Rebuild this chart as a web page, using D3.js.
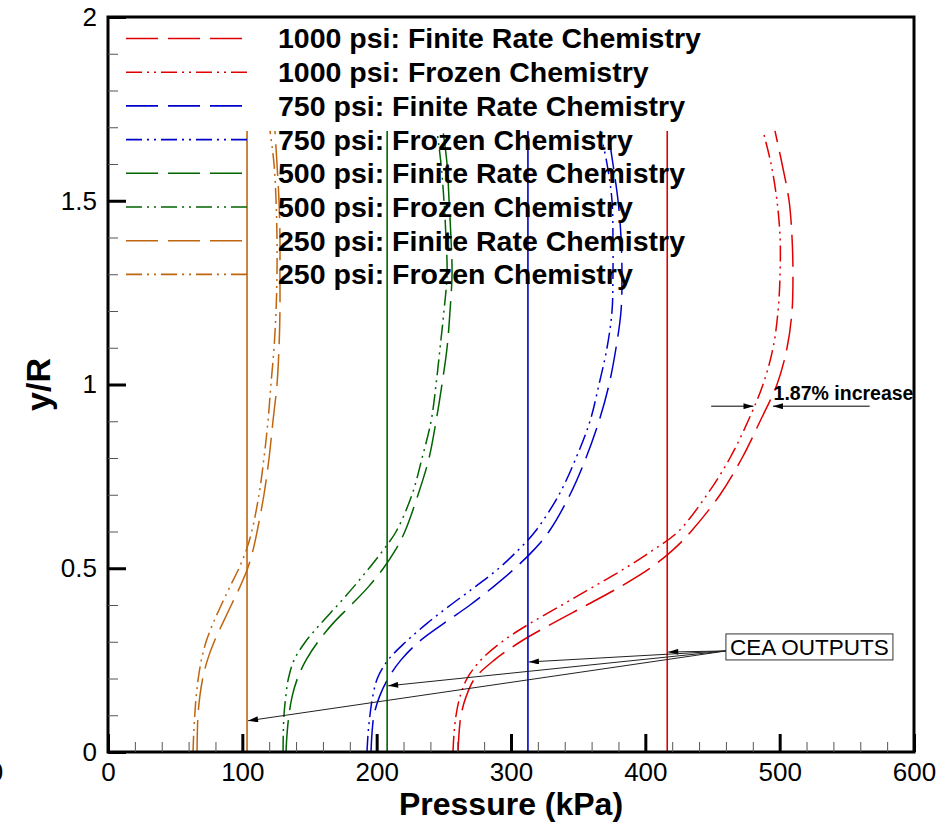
<!DOCTYPE html>
<html><head><meta charset="utf-8">
<script src="https://cdn.jsdelivr.net/npm/d3@7"></script>
<style>body{margin:0;background:#fff} svg{display:block} text{font-family:"Liberation Sans",Arial,Helvetica,sans-serif}</style>
</head><body><svg id="c" width="944" height="822"></svg>
<script>
// ---------- data ----------
const yR = [0,0.05,0.1,0.15,0.2,0.25,0.3,0.35,0.4,0.45,0.5,0.55,0.6,0.7,0.8,0.9,1.0,1.1,1.2,1.3,1.4,1.5,1.6,1.69];
const p1000Finite = [260.6,261.3,262.8,266.5,273.0,287.5,307.0,331.0,356.5,381.5,403.5,420.6,434.0,455.6,472.0,485.4,498.0,505.5,509.2,509.9,509.2,507.0,501.8,496.5];
const p1000Frozen = [256.8,257.6,259.1,262.0,267.3,277.5,293.3,314.2,338.0,361.5,384.9,406.0,424.5,445.9,463.0,476.4,487.6,495.1,498.8,500.3,500.3,498.0,493.6,487.6];
const p750Finite  = [195.8,196.5,198.0,202.0,208.5,218.0,231.5,250.0,269.5,287.0,303.0,317.0,328.3,343.9,355.8,365.5,373.0,378.2,381.9,382.6,381.9,379.7,375.9,372.2];
const p750Frozen  = [192.8,193.6,195.0,197.0,200.5,208.4,221.8,237.5,255.0,273.5,291.0,305.5,318.0,335.7,348.4,358.8,365.5,371.5,375.2,375.9,375.9,375.2,371.5,366.3];
const p500Finite  = [132.5,133.3,134.7,137.0,141.0,147.4,156.3,167.5,181.0,194.0,205.0,214.0,221.0,230.8,239.0,244.2,248.6,252.4,254.6,256.1,255.3,253.9,252.4,249.4];
const p500Frozen  = [130.3,130.5,131.0,132.3,134.3,138.5,147.0,158.5,171.0,183.0,194.3,205.0,214.5,226.3,233.8,240.5,244.2,247.2,250.1,252.4,251.6,250.1,247.9,244.9];
const p250Finite  = [66.3,66.5,67.0,68.3,70.5,74.0,79.0,85.3,91.8,98.3,104.0,108.0,111.0,116.1,119.9,122.8,125.8,127.3,128.0,128.0,128.0,127.3,125.8,124.3];
const p250Frozen  = [63.3,63.8,64.6,65.6,67.2,69.5,73.0,78.2,84.3,90.8,97.5,103.0,107.0,112.4,116.1,119.1,121.3,123.6,125.1,125.8,125.8,125.1,123.6,120.6];

const ceaCases    = ["1000 psi","750 psi","500 psi","250 psi"];
const ceaPressure = [416.3, 312.6, 207.8, 103.5];
const ceaTop      = 1.69;
const ceaArrowY   = [0.272, 0.245, 0.180, 0.085];

const legendLabels = ["1000 psi: Finite Rate Chemistry","1000 psi: Frozen Chemistry",
  "750 psi: Finite Rate Chemistry","750 psi: Frozen Chemistry",
  "500 psi: Finite Rate Chemistry","500 psi: Frozen Chemistry",
  "250 psi: Finite Rate Chemistry","250 psi: Frozen Chemistry"];

const xTicks = [0,100,200,300,400,500,600];
const yTicks = [0,0.5,1,1.5,2];
const xTitle = "Pressure (kPa)";
const yTitle = "y/R";

// ---------- styles ----------
const colors = {"1000 psi":"#e00000","750 psi":"#0000cc","500 psi":"#006400","250 psi":"#c0650f"};
const dashFinite = "32,10";
const dashFrozen = "16,5,2,5,2,5";

const series = [
  {case:"1000 psi", kind:"finite", p:p1000Finite},
  {case:"1000 psi", kind:"frozen", p:p1000Frozen},
  {case:"750 psi", kind:"finite", p:p750Finite},
  {case:"750 psi", kind:"frozen", p:p750Frozen},
  {case:"500 psi", kind:"finite", p:p500Finite},
  {case:"500 psi", kind:"frozen", p:p500Frozen},
  {case:"250 psi", kind:"finite", p:p250Finite},
  {case:"250 psi", kind:"frozen", p:p250Frozen}
];

const svg = d3.select("#c");
const x = d3.scaleLinear().domain([0,600]).range([108,914]);
const y = d3.scaleLinear().domain([0,2]).range([752,17]);

const defs = svg.append("defs");
defs.append("marker").attr("id","arr").attr("viewBox","0 0 10 6").attr("refX",10).attr("refY",3)
  .attr("markerWidth",11).attr("markerHeight",6).attr("markerUnits","userSpaceOnUse").attr("orient","auto")
  .append("path").attr("d","M0,0L10,3L0,6Z").attr("fill","#000");

// curves
const line = d3.line().x(d=>x(d[0])).y(d=>y(d[1])).curve(d3.curveCatmullRom.alpha(0.5));
svg.append("g").selectAll("path").data(series).join("path")
  .attr("d", s => line(s.p.map((v,i)=>[v,yR[i]])))
  .attr("fill","none").attr("stroke", s=>colors[s.case]).attr("stroke-width",1.5)
  .attr("stroke-dasharray", s => s.kind==="finite"?dashFinite:dashFrozen);

// CEA vertical lines
svg.append("g").selectAll("line").data(ceaCases).join("line")
  .attr("x1",(c,i)=>x(ceaPressure[i])).attr("x2",(c,i)=>x(ceaPressure[i]))
  .attr("y1",y(0)).attr("y2",y(ceaTop))
  .attr("stroke",c=>colors[c]).attr("stroke-width",1.6);

// CEA OUTPUTS annotation
const boxP = 460, boxY = 0.275;
svg.append("g").selectAll("line").data(ceaPressure).join("line")
  .attr("x1",x(boxP)).attr("y1",y(boxY))
  .attr("x2",(p)=>x(p)+1).attr("y2",(p,i)=>y(ceaArrowY[i]))
  .attr("stroke","#222").attr("stroke-width",1).attr("marker-end","url(#arr)");
const boxG = svg.append("g");
boxG.append("rect").attr("x",x(boxP)).attr("y",y(boxY)-17).attr("width",167).attr("height",26)
  .attr("fill","#fff").attr("stroke","#333").attr("stroke-width",1);
boxG.append("text").attr("x",x(boxP)+83.5).attr("y",y(boxY)+4).attr("text-anchor","middle")
  .attr("font-size",22.5).text("CEA OUTPUTS");

// 1.87% increase annotation
const incY = 0.941;
svg.append("line").attr("x1",x(449)).attr("x2",x(480.5)).attr("y1",y(incY)).attr("y2",y(incY))
  .attr("stroke","#000").attr("stroke-width",1).attr("marker-end","url(#arr)");
svg.append("line").attr("x1",x(567)).attr("x2",x(495)).attr("y1",y(incY)).attr("y2",y(incY))
  .attr("stroke","#000").attr("stroke-width",1).attr("marker-end","url(#arr)");
svg.append("text").attr("x",x(495.5)).attr("y",y(incY)-6).attr("font-size",19.5).attr("font-weight","bold")
  .text("1.87% increase");

// legend
const lg = svg.append("g");
const rowY = i => 38.5 + 33.7*i;
lg.selectAll("line").data(series).join("line")
  .attr("x1",126).attr("x2",(s)=>s.kind==="finite"?243:250).attr("y1",(s,i)=>rowY(i)).attr("y2",(s,i)=>rowY(i))
  .attr("stroke",s=>colors[s.case]).attr("stroke-width",1.6)
  .attr("stroke-dasharray", s => s.kind==="finite"?dashFinite:dashFrozen);
lg.selectAll("text").data(legendLabels).join("text")
  .attr("x",278).attr("y",(d,i)=>rowY(i)).attr("dy","0.35em")
  .attr("font-size",28.5).attr("font-weight","bold").text(d=>d);

// frame
svg.append("rect").attr("x",x(0)).attr("y",y(2)).attr("width",x(600)-x(0)).attr("height",y(0)-y(2))
  .attr("fill","none").attr("stroke","#000").attr("stroke-width",3);

// axes
const xMinor = d3.range(0,601,20).filter(v=>v%100!==0);
const yMinor = d3.range(0,21,1).map(v=>v/10).filter(v=>Math.round(v*10)%5!==0);
const gxm = svg.append("g").attr("transform",`translate(0,${y(0)})`)
  .call(d3.axisBottom(x).tickValues(xMinor).tickSize(-10).tickFormat(""));
const gx = svg.append("g").attr("transform",`translate(0,${y(0)})`)
  .call(d3.axisBottom(x).tickValues(xTicks).tickSize(-18).tickPadding(11).tickFormat(d3.format("d")));
const gym = svg.append("g").attr("transform",`translate(${x(0)},0)`)
  .call(d3.axisLeft(y).tickValues(yMinor).tickSize(-10).tickFormat(""));
const gy = svg.append("g").attr("transform",`translate(${x(0)},0)`)
  .call(d3.axisLeft(y).tickValues(yTicks).tickSize(-18).tickPadding(11).tickFormat(d=>d3.format("")(d)));
[gxm,gx,gym,gy].forEach(g=>g.select(".domain").remove());
[gxm,gym].forEach(g=>g.selectAll(".tick line").attr("stroke","#555").attr("stroke-width",1));
[gx,gy].forEach(g=>{
  g.selectAll(".tick line").attr("stroke","#000").attr("stroke-width",3);
  g.selectAll(".tick text").attr("font-size",26).attr("fill","#000")
    .attr("font-family",'"Liberation Sans",Arial,sans-serif');
});
// stray clipped label at far left edge
svg.append("text").attr("x",-4).attr("y",y(0)+11).attr("dy","0.71em").attr("text-anchor","middle")
  .attr("font-size",26).text(xTicks[0]);

// titles
svg.append("text").attr("x",(x(0)+x(600))/2).attr("y",815).attr("text-anchor","middle")
  .attr("font-size",32).attr("font-weight","bold").text(xTitle);
svg.append("text").attr("transform",`translate(50,${y(1)}) rotate(-90)`).attr("text-anchor","middle")
  .attr("font-size",34).attr("font-weight","bold").text(yTitle);
</script></body></html>
